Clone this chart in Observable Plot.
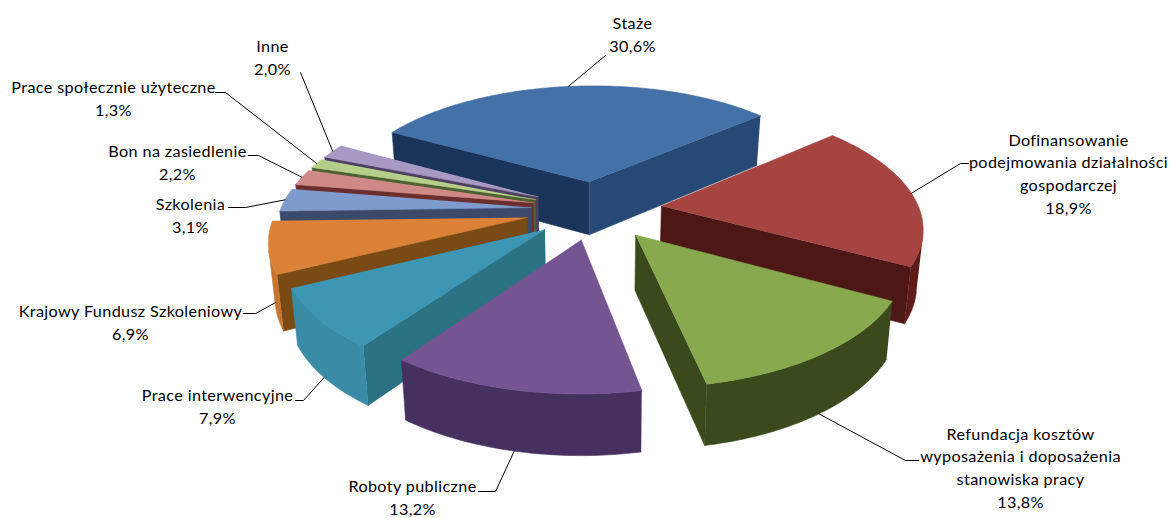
<!DOCTYPE html>
<html><head><meta charset="utf-8">
<style>html,body{margin:0;padding:0;background:#fff}</style>
<script src="https://cdn.jsdelivr.net/npm/d3@7"></script>
<script src="https://cdn.jsdelivr.net/npm/@observablehq/plot@0.6"></script>
</head><body><div id="chart"></div>
<script>
const categories = ["Staże","Dofinansowanie\npodejmowania działalności\ngospodarczej","Refundacja kosztów\nwyposażenia i doposażenia\nstanowiska pracy","Roboty publiczne","Prace interwencyjne","Krajowy Fundusz Szkoleniowy","Szkolenia","Bon na zasiedlenie","Prace społecznie użyteczne","Inne"];
const shares = [30.6,18.9,13.8,13.2,7.9,6.9,3.1,2.2,1.3,2.0];
const explode = [0.24,0.265,0.26,0.25,0.25,0.27,0.25,0.25,0.25,0.25];
const topColors = ["#4371a8","#a64442","#88a94e","#745592","#3d96b4","#dc8138","#7f9bce","#cf8a87","#b5cf8a","#a898c4"];
const cutColors = ["#1b3459","#4d1715","#3a4a1c","#3a2850","#2c7285","#7a4a14","#3b4a6b","#6a2f2e","#4f6030","#4d4060"];
const cutEndColors = ["#264a75","#4d1715","#3a4a1c","#3a2850","#2c7285","#7a4a14","#3b4a6b","#6a2f2e","#4f6030","#4d4060"];
const rimColors = ["#28476f","#5d1c1a","#3a4a1c","#453060","#3a8ba6","#c87530","#46587e","#8a4240","#6a8040","#6a5a86"];
const drawOrder = [0,9,8,7,6,5,1,4,2,3];
const labelPos = [[632,33],[1068,172],[1020,466],[412,496],[217,405],[130,321],[190,214],[177,161],[113,97],[272,56]];
const elbows = [[605,55,605,55],[968,163,960,163],[918,460,905,460],[478,491,495,491],[295,400,303,400],[243,313,255,313],[228,207,245,207],[248,155,258,155],[215,92,225,92],[300,72,300,72]];
const leaderDepth = [0,0,1,1,1,1,0,0,0,0];

const W=1172,H0=518;
const cx=594,cy=209,R=254,T=119,k=0.158,H=54,kh=0.1,shrink=0.02,start=-57,skew=14,tilt=7;
const rad=d=>d*Math.PI/180;
function proj(u,v,z){const d=1+k*v;return [cx+(R*u/d)*(1-shrink*z)-skew*v, cy-T*v/d-tilt*u+z*H/(1+kh*v)];}
let cum=start; const slices=shares.map((s,i)=>{const a0=cum,a1=cum+s*3.6;cum=a1;const m=rad((a0+a1)/2);
  return {i,a0,a1,ox:explode[i]*Math.sin(m),oy:explode[i]*Math.cos(m),mid:(a0+a1)/2};});
const pt=(s,a,z,r=1)=>proj(s.ox+r*Math.sin(rad(a)),s.oy+r*Math.cos(rad(a)),z);
const area=q=>d3.polygonArea(q);
const polys=[];let id=0;
function add(q,fill){id++;q.forEach(p=>polys.push({id,x:p[0],y:p[1],fill}));}
for(const idx of drawOrder){const s=slices[idx];
  const tip0=pt(s,0,0,0),tip1=pt(s,0,1,0);
  const E0=pt(s,s.a0,0),E0b=pt(s,s.a0,1),E1=pt(s,s.a1,0),E1b=pt(s,s.a1,1);
  const q0=[tip0,E0,E0b,tip1],q1=[E1,tip0,tip1,E1b];
  if(area(q0)>0)add(q0,cutColors[idx]);
  if(area(q1)>0)add(q1,cutEndColors[idx]);
  const n=Math.max(8,Math.round(s.a1-s.a0));
  const arc=d3.range(n+1).map(j=>s.a0+(s.a1-s.a0)*j/n);
  let run=[];
  const flush=()=>{if(run.length){const as=[run[0][0],...run.map(r=>r[1])];
    add([...as.map(a=>pt(s,a,0)),...as.slice().reverse().map(a=>pt(s,a,1))],rimColors[idx]);run=[];}};
  for(let j=0;j<n;j++){const q=[pt(s,arc[j],0),pt(s,arc[j+1],0),pt(s,arc[j+1],1),pt(s,arc[j],1)];
    if(area(q)>0)run.push([arc[j],arc[j+1]]);else flush();}
  flush();
  add([tip0,...arc.map(a=>pt(s,a,0))],topColors[idx]);
}
const leaders=[];
slices.forEach((s,i)=>{const p=pt(s,s.mid,leaderDepth[i]);const e=elbows[i];
  [[e[0],e[1]],[e[2],e[3]],p].forEach(q=>leaders.push({i,x:q[0],y:q[1]}));});
const labels=categories.map((c,i)=>({text:c+"\n"+shares[i].toFixed(1).replace(".",",")+"%",x:labelPos[i][0],y:labelPos[i][1]}));

const chart=Plot.plot({width:W,height:H0,margin:0,
  x:{domain:[0,W],range:[0,W],axis:null},y:{domain:[0,H0],range:[0,H0],axis:null},
  color:{type:"identity"},style:{background:"#fff",letterSpacing:"0.37px"},
  marks:[
    Plot.line(polys,{x:"x",y:"y",z:"id",fill:"fill",stroke:"fill",strokeWidth:0.6}),
    Plot.line(leaders,{x:"x",y:"y",z:"i",stroke:"#000",strokeWidth:1}),
    Plot.text(labels,{x:"x",y:"y",text:"text",fontFamily:"Lato",fontSize:16.2,lineHeight:1.41,fill:"#000"})
  ]});
document.getElementById("chart").append(chart);
</script></body></html>
